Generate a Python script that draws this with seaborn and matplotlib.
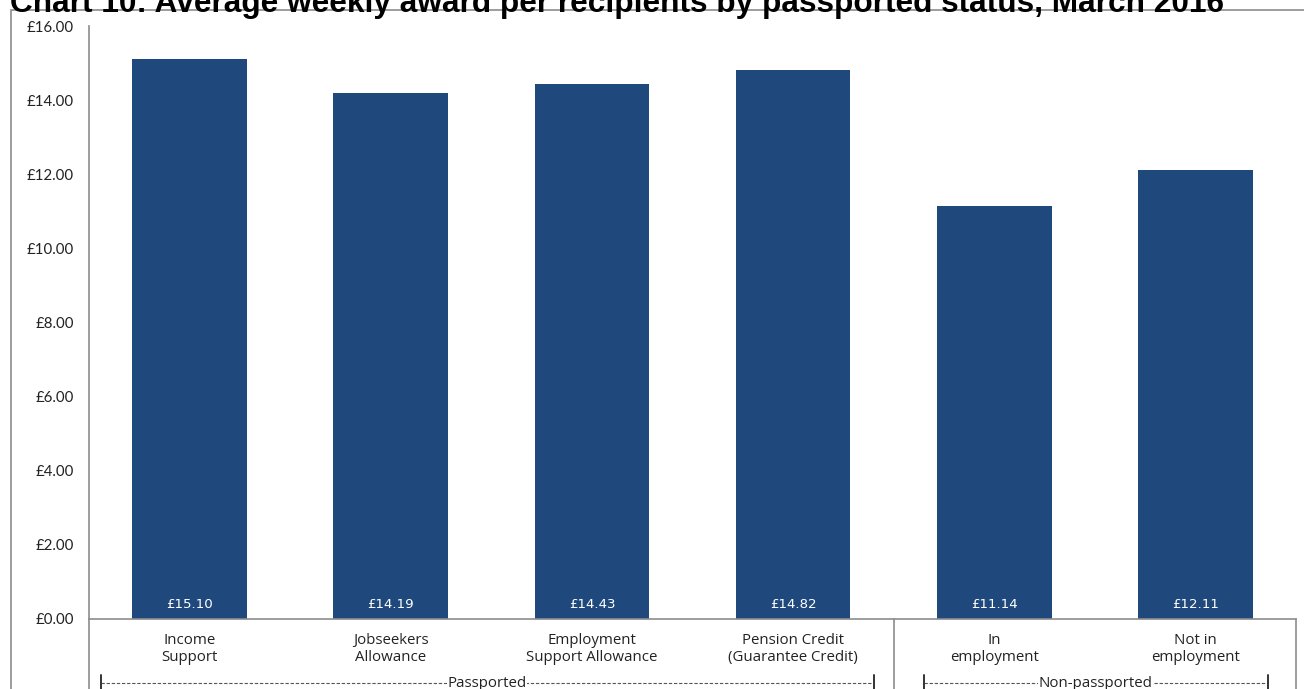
import matplotlib
matplotlib.use("Agg")
import matplotlib.pyplot as plt
import seaborn as sns
import pandas as pd
from matplotlib.patches import Rectangle
from matplotlib.lines import Line2D

# Average weekly award (GBP) by passported status
categories = [
    "Income\nSupport",
    "Jobseekers\nAllowance",
    "Employment\nSupport Allowance",
    "Pension Credit\n(Guarantee Credit)",
    "In\nemployment",
    "Not in\nemployment",
]
awards = [15.10, 14.19, 14.43, 14.82, 11.14, 12.11]
groups = ["Passported", "Non-passported"]
group_sizes = [4, 2]
y_ticks = [0, 2, 4, 6, 8, 10, 12, 14, 16]
title = "Chart 10: Average weekly award per recipients by passported status, March 2016"

sns.set_style("white")
plt.rcParams["font.family"] = ["Open Sans", "DejaVu Sans"]

BAR_COLOR = "#1F497D"
LINE_COLOR = "#8C8C8C"
TEXT_COLOR = "#222222"

fig = plt.figure(figsize=(13.04, 6.89), dpi=100)
ax = fig.add_axes([89 / 1304, 70 / 689, 1207 / 1304, 593 / 689])

df = pd.DataFrame({"category": categories, "award": awards})
sns.barplot(data=df, x="category", y="award", color=BAR_COLOR, width=0.57,
            saturation=1, linewidth=0, ax=ax)

ax.set_xlim(-0.5, len(categories) - 0.5)
ax.set_ylim(0, 16)
ax.set_yticks(y_ticks)
ax.set_yticklabels([f"£{v:.2f}" for v in y_ticks], fontsize=10.8,
                   color=TEXT_COLOR, family=["Lato", "DejaVu Sans"])
ax.tick_params(axis="y", length=0, pad=11)
ax.tick_params(axis="x", length=0, pad=10)
ax.set_xticks(range(len(categories)))
ax.set_xticklabels(categories, fontsize=10.8, color=TEXT_COLOR, linespacing=1.15)
ax.set_xlabel("")
ax.set_ylabel("")
ax.grid(False)

for side in ["top", "right"]:
    ax.spines[side].set_visible(False)
for side in ["left", "bottom"]:
    ax.spines[side].set_color(LINE_COLOR)
    ax.spines[side].set_linewidth(1.2)

# value labels inside the bottom of each bar
for bar, val in zip(ax.patches, awards):
    ax.text(bar.get_x() + bar.get_width() / 2, 0.4, f"£{val:.2f}",
            ha="center", va="center", color="white", fontsize=9.6,
            family=["DejaVu Sans"])

# boxes around the category groups below the axis
xt = ax.get_xaxis_transform()
bottom = -0.125
edges = [-0.5]
for n in group_sizes:
    edges.append(edges[-1] + n)
for x in edges:
    ax.add_line(Line2D([x, x], [0, bottom], transform=xt, color=LINE_COLOR,
                       lw=1.2, clip_on=False))

# dashed group brackets with their names
insets = [(0.06, 0.10), (0.15, 0.14)]
y_group = -0.108
for name, (l, r), x0, x1 in zip(groups, insets, edges[:-1], edges[1:]):
    a, b = x0 + l, x1 - r
    ax.add_line(Line2D([a, b], [y_group, y_group], transform=xt, color="#555555",
                       lw=0.8, ls=(0, (3, 1.6)), clip_on=False))
    for x in (a, b):
        ax.add_line(Line2D([x, x], [y_group - 0.014, y_group + 0.014],
                           transform=xt, color="#333333", lw=1.4, clip_on=False))
    ax.text((a + b) / 2, y_group, name, transform=xt, ha="center", va="center",
            fontsize=10.8, color=TEXT_COLOR,
            bbox=dict(facecolor="white", edgecolor="none", pad=0.3))

# outer chart frame
fig.add_artist(Rectangle((11 / 1304, -0.05), 1.1, (689 - 10) / 689 + 0.05,
                         transform=fig.transFigure, fill=False,
                         edgecolor=LINE_COLOR, lw=1.2, clip_on=False))

fig.text(10 / 1304, (689 - 12) / 689, title, ha="left", va="baseline",
         fontsize=22.8, fontweight="bold", color="black",
         family=["Liberation Sans", "DejaVu Sans"])

fig.savefig("out.png", dpi=100)
